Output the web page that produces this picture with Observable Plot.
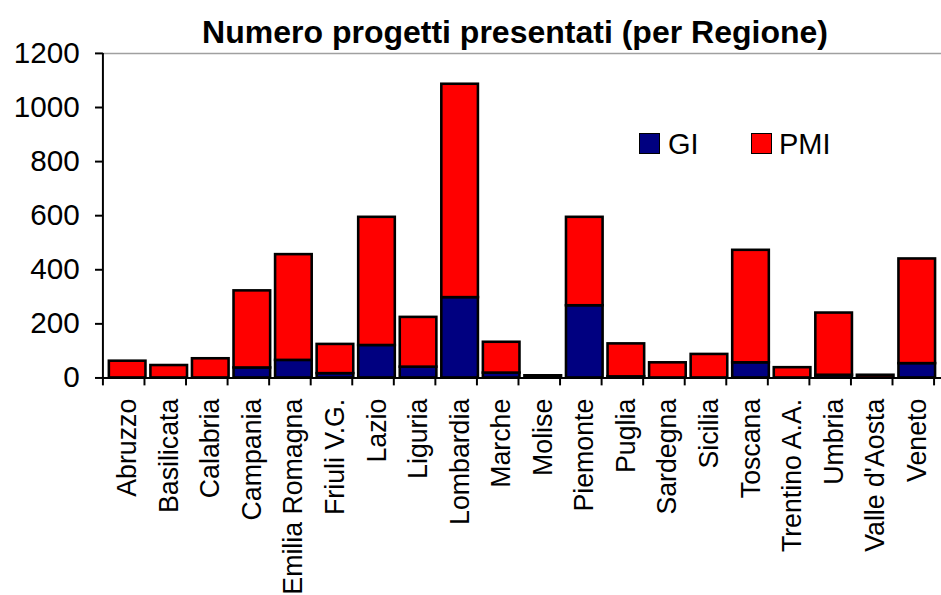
<!DOCTYPE html>
<html><head><meta charset="utf-8">
<script src="https://cdn.jsdelivr.net/npm/d3@7"></script>
<script src="https://cdn.jsdelivr.net/npm/@observablehq/plot@0.6"></script>
<style>
body{margin:0;background:#fff;font-family:Arial,"Liberation Sans",sans-serif;}
#wrap{position:relative;width:941px;height:595px;overflow:hidden;background:#fff;}
#title{height:45px;box-sizing:border-box;padding-top:17px;font-size:32px;line-height:30px;font-weight:bold;width:1030px;text-align:center;white-space:nowrap;color:#000;}
#chart svg{display:block;}
.sw{position:absolute;width:19px;height:19px;border:1.5px solid #000;}
.lt{position:absolute;font-size:29px;line-height:29px;color:#000;white-space:nowrap;}
</style></head>
<body>
<div id="wrap">
  <div id="title">Numero progetti presentati (per Regione)</div>
  <div id="chart"></div>
  <div id="legend"></div>
</div>
<script>
const regions = ["Abruzzo","Basilicata","Calabria","Campania","Emilia Romagna","Friuli V.G.","Lazio","Liguria","Lombardia","Marche","Molise","Piemonte","Puglia","Sardegna","Sicilia","Toscana","Trentino A.A.","Umbria","Valle d'Aosta","Veneto"];
const totals = [62,46,71,322,456,124,594,224,1086,132,8,594,126,56,87,472,38,240,10,440];
const gi = [0,0,0,37,65,16,120,40,297,18,0,267,4,0,0,56,0,10,0,53];
const series = ["GI","PMI"];
const colors = ["#000080","#FF0000"];
const yTicks = [0,200,400,600,800,1000,1200];

const rows = [];
regions.forEach((r,i)=>{
  rows.push({region:r, series:"GI", value:gi[i]});
  rows.push({region:r, series:"PMI", value:totals[i]-gi[i]});
});

const chart = Plot.plot({
  width: 951, height: 550,
  marginLeft: 104, marginRight: 0, marginTop: 8, marginBottom: 214,
  style: {fontFamily: "Arial, 'Liberation Sans', sans-serif", background: "#fff", color: "#000", overflow: "visible"},
  x: {domain: regions, paddingInner: 0.13, paddingOuter: 0.065, align: 0.5},
  y: {domain: [0,1200]},
  color: {domain: series, range: colors},
  marks: [
    Plot.ruleY([1200], {stroke: "#a0a0a0", strokeWidth: 1.5}),
    Plot.barY(rows, Plot.stackY({x: "region", y: "value", fill: "series", stroke: "#000", strokeWidth: 2.6, order: series})),
    Plot.ruleY([0], {stroke: "#000", strokeWidth: 2}),
    Plot.axisY({ticks: yTicks, tickFormat: d => String(d), tickSize: 8, tickPadding: 16, fontSize: 30, strokeWidth: 2, label: null}),
    Plot.axisX({tickSize: 0, tickPadding: 21, tickRotate: -90, fontSize: 27, label: null})
  ]
});
document.getElementById("chart").appendChild(chart);

// axis line and boundary ticks from the plot's own scales
const xs = chart.scale("x"), ys = chart.scale("y");
const svg = d3.select(chart);
const x0 = xs.range[0];
const step = xs.step;
const yTop = ys.apply(1200), yBot = ys.apply(0);
const g = svg.append("g").attr("stroke", "#000").attr("stroke-width", 2);
g.append("line").attr("x1", x0).attr("x2", x0).attr("y1", yTop).attr("y2", yBot + 1);
d3.range(regions.length + 1).forEach(k => {
  const x = x0 + k * step;
  g.append("line").attr("x1", x).attr("x2", x).attr("y1", yBot).attr("y2", yBot + 8);
});

// legend (HTML overlay inside plot area)
const legend = document.getElementById("legend");
const legendPos = [{sw:639, tx:668}, {sw:751, tx:779}];
series.forEach((s,i)=>{
  const sw = document.createElement("div");
  sw.className = "sw";
  sw.style.left = legendPos[i].sw + "px";
  sw.style.top = "133px";
  sw.style.background = colors[i];
  legend.appendChild(sw);
  const t = document.createElement("div");
  t.className = "lt";
  t.style.left = legendPos[i].tx + "px";
  t.style.top = "130px";
  t.textContent = s;
  legend.appendChild(t);
});
</script>
</body></html>
